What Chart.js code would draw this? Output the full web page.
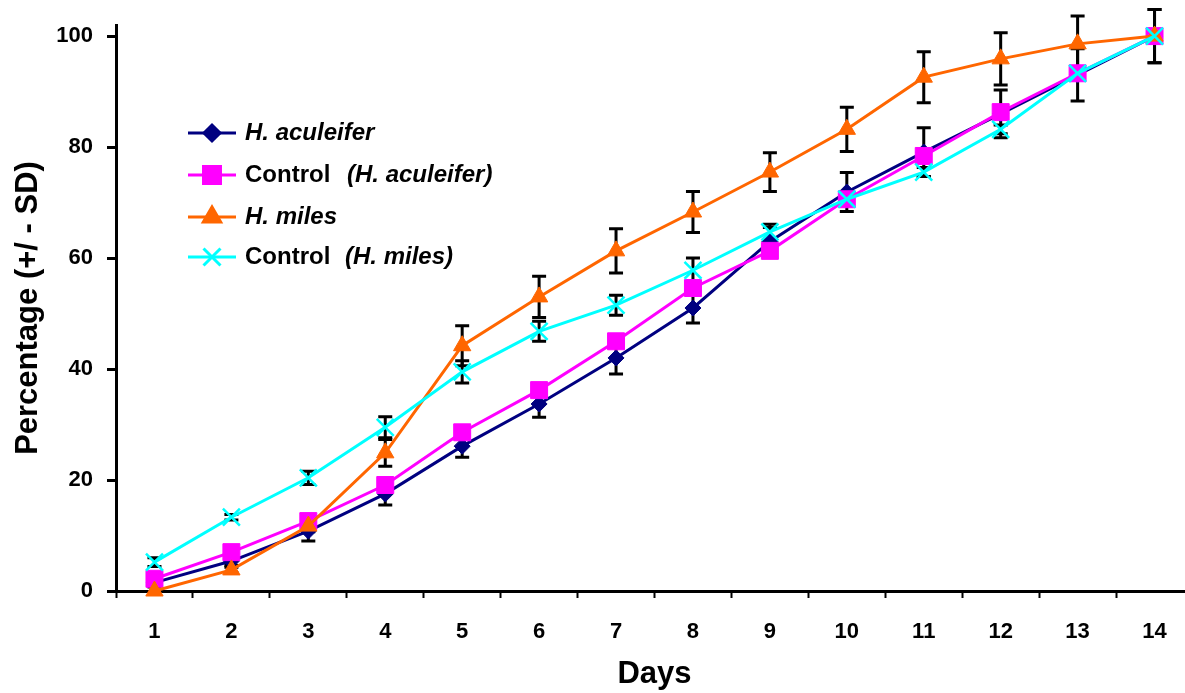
<!DOCTYPE html>
<html><head><meta charset="utf-8">
<script src="https://cdn.jsdelivr.net/npm/chart.js@4.4.1/dist/chart.umd.min.js"></script>
<style>
html,body{margin:0;padding:0;overflow:hidden;background:#fff;width:1185px;height:693px}
#wrap{position:absolute;left:0;top:0;width:1200px;height:693px}
canvas{display:block}
</style></head>
<body><div id="wrap"><canvas id="c" width="1200" height="693"></canvas></div>
<script>
const days = ['1','2','3','4','5','6','7','8','9','10','11','12','13','14'];
const aculeifer        = [1.5, 5.4, 10.8, 17.5, 26.1, 33.7, 42.0, 51.0, 63.0, 71.9, 79.1, 86.0, 93.0, 100];
const controlAculeifer = [2.2, 7.0, 12.6, 19.1, 28.6, 36.2, 45.0, 54.6, 61.3, 70.6, 78.4, 86.3, 93.3, 100];
const miles            = [0.0, 3.8, 11.7, 24.9, 44.2, 53.0, 61.3, 68.3, 75.5, 83.2, 92.6, 95.9, 98.6, 100];
const controlMiles     = [5.2, 13.3, 20.4, 29.5, 39.5, 46.8, 51.5, 57.8, 64.7, 70.6, 75.5, 83.2, 93.3, 100];
const sdAculeifer      = [0.8, 0.8, 1.8, 2.0, 2.0, 2.4, 2.9, 2.7, 2.5, 3.5, 4.4, 4.3, 4.7, 4.8];
const sdMiles          = [0.0, 0.5, 1.0, 2.4, 3.6, 3.7, 4.0, 3.7, 3.5, 4.0, 4.6, 4.7, 5.0, 4.8];
const sdControlMiles   = [0.8, 0.5, 1.2, 1.9, 2.0, 1.8, 1.8, 2.2, 1.4, 0.8, 0.8, 0.8, 0.5, 0.0];
const yTicks = [0, 20, 40, 60, 80, 100];
const seriesNames = ['H. aculeifer', 'Control (H. aculeifer)', 'H. miles', 'Control (H. miles)'];

const FONT = '"Liberation Sans", Arial, Helvetica, sans-serif';

const errorBars = {
  id: 'errorBars',
  beforeDatasetsDraw(chart) {
    const ctx = chart.ctx, xs = chart.scales.x, ys = chart.scales.y;
    ctx.save();
    ctx.strokeStyle = '#000';
    ctx.lineWidth = 3;
    chart.data.datasets.forEach(ds => {
      if (!ds.sd) return;
      ds.data.forEach((v, i) => {
        const s = ds.sd[i];
        if (!s) return;
        const x = xs.getPixelForValue(i);
        const y1 = ys.getPixelForValue(v + s), y2 = ys.getPixelForValue(v - s);
        ctx.beginPath();
        ctx.moveTo(x, y1); ctx.lineTo(x, y2);
        ctx.moveTo(x - 7, y1); ctx.lineTo(x + 7, y1);
        ctx.moveTo(x - 7, y2); ctx.lineTo(x + 7, y2);
        ctx.stroke();
      });
    });
    ctx.restore();
  }
};

const customLegend = {
  id: 'customLegend',
  afterDatasetsDraw(chart) {
    const ctx = chart.ctx;
    const rows = [
      {ds: 0, y: 133, parts: [['H. aculeifer', 'italic bold', 245]]},
      {ds: 1, y: 175, parts: [['Control', 'bold', 245], ['(H. aculeifer)', 'italic bold', 347]]},
      {ds: 2, y: 217, parts: [['H. miles', 'italic bold', 245]]},
      {ds: 3, y: 257, parts: [['Control', 'bold', 245], ['(H. miles)', 'italic bold', 345]]}
    ];
    ctx.save();
    rows.forEach(r => {
      const ds = chart.data.datasets[r.ds];
      ctx.strokeStyle = ds.borderColor;
      ctx.lineWidth = 3;
      ctx.beginPath(); ctx.moveTo(188, r.y); ctx.lineTo(236, r.y); ctx.stroke();
      ctx.fillStyle = ds.pointBackgroundColor;
      ctx.strokeStyle = ds.pointBorderColor;
      if (Chart.helpers && Chart.helpers.drawPoint) {
        Chart.helpers.drawPoint(ctx, {pointStyle: ds.pointStyle, radius: ds.pointRadius, rotation: 0, borderWidth: ds.pointBorderWidth}, 212, r.y);
      }
      ctx.fillStyle = '#000';
      ctx.textBaseline = 'middle';
      ctx.textAlign = 'left';
      r.parts.forEach(p => {
        ctx.font = p[1] + ' 24px ' + FONT;
        ctx.fillText(p[0], p[2], r.y);
      });
    });
    ctx.restore();
  }
};

new Chart(document.getElementById('c'), {
  type: 'line',
  data: {
    labels: days,
    datasets: [
      {label: seriesNames[0], data: aculeifer, sd: sdAculeifer, order: 4, clip: false,
       borderColor: '#000080', borderWidth: 3, pointStyle: 'rectRot', pointRadius: 8,
       pointBackgroundColor: '#000080', pointBorderColor: '#000080', pointBorderWidth: 1},
      {label: seriesNames[1], data: controlAculeifer, order: 3, clip: false,
       borderColor: '#FF00FF', borderWidth: 3, pointStyle: 'rect', pointRadius: 12,
       pointBackgroundColor: '#FF00FF', pointBorderColor: '#FF00FF', pointBorderWidth: 1},
      {label: seriesNames[2], data: miles, sd: sdMiles, order: 2, clip: false,
       borderColor: '#FF6600', borderWidth: 3, pointStyle: 'triangle', pointRadius: 10,
       pointBackgroundColor: '#FF6600', pointBorderColor: '#FF6600', pointBorderWidth: 1},
      {label: seriesNames[3], data: controlMiles, sd: sdControlMiles, order: 1, clip: false,
       borderColor: '#00FFFF', borderWidth: 3, pointStyle: 'crossRot', pointRadius: 12,
       pointBackgroundColor: '#00FFFF', pointBorderColor: '#00FFFF', pointBorderWidth: 2.5}
    ]
  },
  options: {
    responsive: false, animation: false, devicePixelRatio: 1,
    layout: {autoPadding: false, padding: {left: 10, top: 25, right: 7, bottom: 0}},
    elements: {line: {tension: 0}},
    plugins: {legend: {display: false}, tooltip: {enabled: false}},
    scales: {
      x: {
        type: 'category', offset: true,
        grid: {offset: true, drawOnChartArea: false, drawTicks: true, tickLength: 7, tickWidth: 2, tickColor: '#000'},
        border: {display: true, color: '#000', width: 3},
        ticks: {color: '#000', font: {family: FONT, size: 22, weight: 'bold'}, padding: 21, maxRotation: 0, autoSkip: false},
        title: {display: true, text: 'Days', color: '#000', font: {family: FONT, size: 31, weight: 'bold'}, padding: {top: 0, bottom: 0}},
        afterFit(s) { s.height = 102; s.paddingLeft = 0; s.paddingRight = 0; }
      },
      y: {
        min: 0, max: 102,
        afterBuildTicks(s) { s.ticks = yTicks.map(v => ({value: v})); },
        grid: {drawOnChartArea: false, drawTicks: true, tickLength: 9, tickWidth: 3, tickColor: '#000'},
        border: {display: true, color: '#000', width: 3},
        ticks: {color: '#000', font: {family: FONT, size: 22, weight: 'bold'}, padding: 14},
        title: {display: true, text: 'Percentage (+/ - SD)', color: '#000', font: {family: FONT, size: 31, weight: 'bold'}, padding: {top: 0, bottom: 0}},
        afterFit(s) { s.width = 106; s.paddingTop = 0; s.paddingBottom = 0; }
      }
    }
  },
  plugins: [errorBars, customLegend]
});
</script>
</body></html>
